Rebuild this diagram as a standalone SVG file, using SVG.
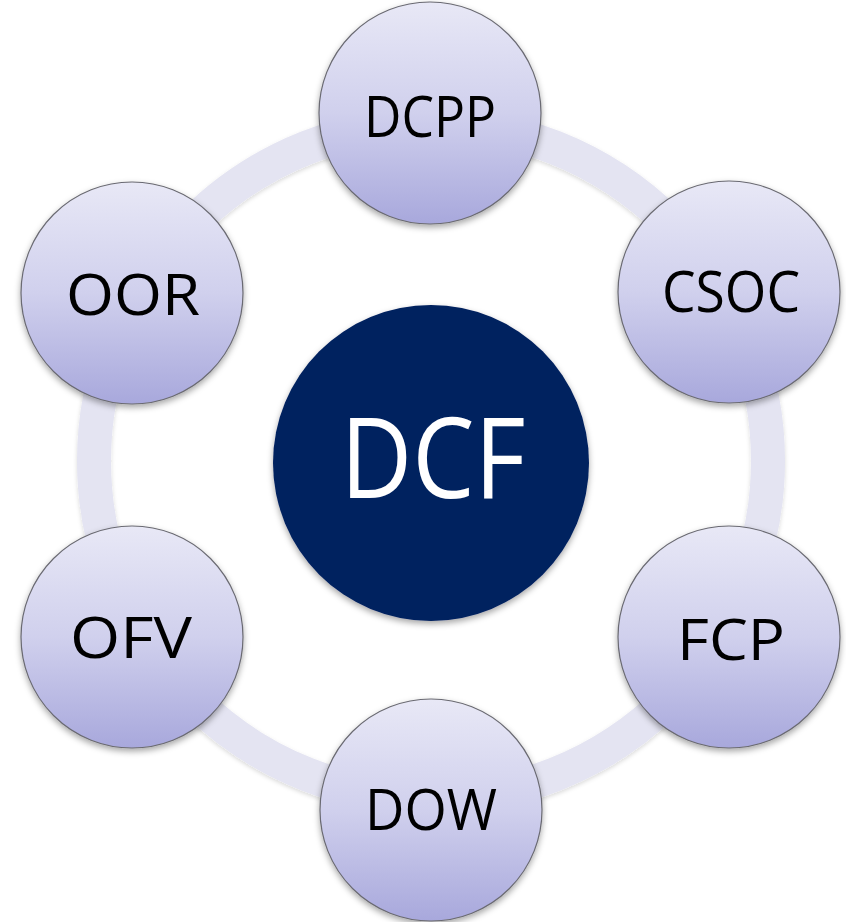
<svg xmlns="http://www.w3.org/2000/svg" width="846" height="922" viewBox="0 0 846 922">
  <defs>
    <linearGradient id="satFill" x1="0" y1="0" x2="0" y2="1">
      <stop offset="0" stop-color="#e8e8f6"/>
      <stop offset="0.5" stop-color="#d0d0ed"/>
      <stop offset="1" stop-color="#a8a8dc"/>
    </linearGradient>
    <filter id="shadow" x="-20%" y="-20%" width="140%" height="140%">
      <feDropShadow dx="0" dy="3" stdDeviation="3" flood-color="#000" flood-opacity="0.35"/>
    </filter>
    <filter id="ringShadow" x="-10%" y="-10%" width="120%" height="120%">
      <feDropShadow dx="0" dy="2" stdDeviation="2" flood-color="#000" flood-opacity="0.15"/>
    </filter>
  </defs>
  <style>
    .sat { fill: url(#satFill); stroke: #6a6a72; stroke-width: 1.2; filter: url(#shadow); }
    .lbl { font-family: "Open Sans", "Liberation Sans", sans-serif; font-size: 57px; fill: #000; text-anchor: middle; }
    .ctr { fill: #02205e; filter: url(#shadow); }
    .ctrlbl { font-family: "Open Sans", "Liberation Sans", sans-serif; font-size: 112px; fill: #fff; text-anchor: middle; }
  </style>
  <rect width="846" height="922" fill="#ffffff"/>
  <g id="connectors">
    <circle cx="431" cy="461" r="337" fill="none" stroke="#e4e4f2" stroke-width="34" filter="url(#ringShadow)"/>
  </g>
  <g id="DCF">
    <circle class="ctr" cx="431" cy="463" r="158"/>
    <text class="ctrlbl" x="433" y="498" textLength="185" lengthAdjust="spacingAndGlyphs">DCF</text>
  </g>
  <g id="DCPP">
    <circle class="sat" cx="430" cy="113" r="111"/>
    <text class="lbl" x="430" y="137" textLength="132" lengthAdjust="spacingAndGlyphs">DCPP</text>
  </g>
  <g id="CSOC">
    <circle class="sat" cx="729" cy="292" r="111"/>
    <text class="lbl" x="731" y="312" textLength="138" lengthAdjust="spacingAndGlyphs">CSOC</text>
  </g>
  <g id="FCP">
    <circle class="sat" cx="729" cy="637" r="111"/>
    <text class="lbl" x="731" y="660" textLength="108" lengthAdjust="spacingAndGlyphs">FCP</text>
  </g>
  <g id="DOW">
    <circle class="sat" cx="431" cy="810" r="111"/>
    <text class="lbl" x="431" y="830" textLength="132" lengthAdjust="spacingAndGlyphs">DOW</text>
  </g>
  <g id="OFV">
    <circle class="sat" cx="132" cy="637" r="111"/>
    <text class="lbl" x="131" y="658" textLength="122" lengthAdjust="spacingAndGlyphs">OFV</text>
  </g>
  <g id="OOR">
    <circle class="sat" cx="132" cy="293" r="111"/>
    <text class="lbl" x="133" y="315" textLength="134" lengthAdjust="spacingAndGlyphs">OOR</text>
  </g>
</svg>
